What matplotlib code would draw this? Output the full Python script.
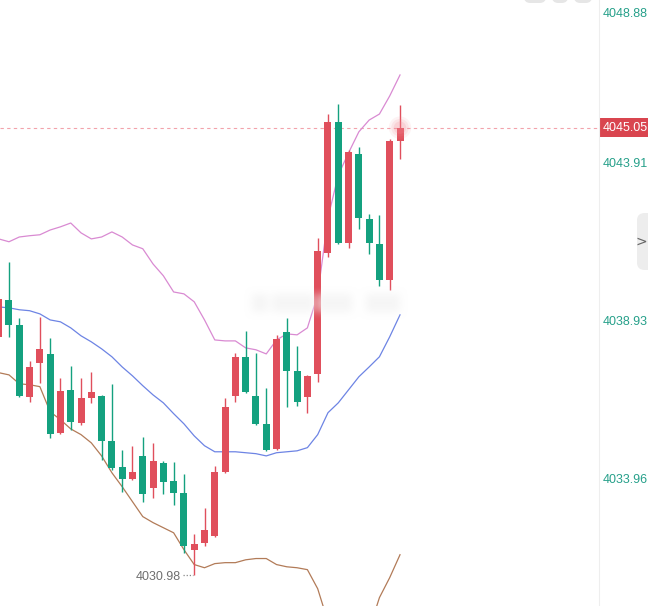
import numpy as np
import matplotlib
matplotlib.use("Agg")
import matplotlib.pyplot as plt
from matplotlib.patches import Rectangle, FancyBboxPatch
from matplotlib.lines import Line2D

plt.rcParams['font.family'] = ['Liberation Sans', 'DejaVu Sans']

# ---- OHLC candles (oldest -> newest) ----
opens = [4038.47, 4039.63, 4038.85, 4036.58, 4037.65, 4037.93, 4035.45, 4036.80, 4035.76, 4036.55,
         4036.61, 4035.20, 4034.38, 4034.00, 4034.73, 4033.72, 4034.51, 4033.94, 4033.56, 4031.77,
         4031.99, 4032.21, 4034.22, 4036.61, 4037.84, 4036.61, 4035.73, 4034.95, 4038.63, 4037.40,
         4036.58, 4037.30, 4041.11, 4045.23, 4041.42, 4044.23, 4042.18, 4041.39, 4040.26, 4044.63]
highs = [4039.75, 4040.83, 4039.07, 4037.71, 4039.10, 4038.44, 4037.18, 4037.56, 4037.18, 4037.37,
         4036.65, 4036.99, 4034.91, 4035.04, 4035.32, 4035.13, 4034.57, 4034.54, 4034.16, 4032.27,
         4033.09, 4034.41, 4036.55, 4037.97, 4038.66, 4037.97, 4036.86, 4038.53, 4039.07, 4038.19,
         4037.27, 4041.58, 4045.48, 4045.80, 4044.35, 4044.45, 4042.34, 4042.31, 4044.70, 4045.77]
lows = [4038.40, 4038.47, 4036.58, 4036.42, 4037.02, 4035.29, 4035.42, 4035.54, 4035.70, 4036.39,
        4034.60, 4034.28, 4033.59, 4033.97, 4033.28, 4033.40, 4033.53, 4033.18, 4031.67, 4030.98,
        4031.89, 4032.18, 4034.19, 4036.42, 4036.71, 4035.70, 4034.88, 4034.91, 4036.27, 4036.30,
        4036.08, 4037.05, 4040.98, 4041.40, 4041.27, 4041.87, 4041.08, 4040.07, 4039.95, 4044.07]
closes = [4039.66, 4038.85, 4036.61, 4037.52, 4038.09, 4035.42, 4036.77, 4035.79, 4036.55, 4036.74,
          4035.20, 4034.35, 4034.00, 4034.22, 4033.53, 4034.57, 4033.91, 4033.56, 4031.89, 4031.96,
          4032.40, 4034.22, 4036.27, 4037.84, 4036.74, 4035.73, 4034.91, 4038.41, 4037.40, 4036.42,
          4037.24, 4041.17, 4045.23, 4041.42, 4044.29, 4042.21, 4041.42, 4040.26, 4044.63, 4045.05]

# ---- Bollinger bands ----
boll_upper = [4041.55, 4041.46, 4041.61, 4041.65, 4041.68, 4041.83, 4041.93, 4042.05, 4041.74, 4041.55,
              4041.61, 4041.77, 4041.61, 4041.36, 4041.24, 4040.76, 4040.39, 4039.88, 4039.82, 4039.57,
              4039.00, 4038.37, 4038.34, 4038.34, 4038.12, 4038.06, 4037.93, 4038.37, 4038.56, 4038.53,
              4038.75, 4039.79, 4042.21, 4043.56, 4044.26, 4044.92, 4045.29, 4045.48, 4046.05, 4046.71]
boll_mid = [4039.41, 4039.38, 4039.32, 4039.29, 4039.19, 4039.00, 4038.94, 4038.75, 4038.50, 4038.31,
            4038.09, 4037.84, 4037.52, 4037.24, 4036.93, 4036.64, 4036.39, 4036.05, 4035.73, 4035.35,
            4035.04, 4034.85, 4034.85, 4034.85, 4034.82, 4034.79, 4034.72, 4034.82, 4034.85, 4034.88,
            4034.98, 4035.39, 4036.08, 4036.39, 4036.80, 4037.21, 4037.52, 4037.84, 4038.47, 4039.16]
boll_lower = [4037.34, 4037.27, 4036.99, 4036.96, 4036.90, 4036.11, 4035.86, 4035.57, 4035.39, 4035.13,
              4034.72, 4034.19, 4033.75, 4033.28, 4032.81, 4032.62, 4032.46, 4032.30, 4031.77, 4031.30,
              4031.20, 4031.33, 4031.36, 4031.36, 4031.45, 4031.49, 4031.49, 4031.30, 4031.23, 4031.20,
              4031.14, 4030.54, 4029.50, 4028.47, 4027.99, 4028.15, 4029.25, 4030.26, 4030.89, 4031.61]

# ---- price axis ----
axis_ticks = [4048.88, 4043.91, 4038.93, 4033.96]
last_price = closes[-1]
low_price = min(lows)

UP = '#e04f5c'
DOWN = '#14a17f'
TICK_COLOR = '#26a08a'

W, H = 648, 606
fig = plt.figure(figsize=(W / 100, H / 100), dpi=100)
fig.patch.set_facecolor('white')
plot_w = 599
ax = fig.add_axes([0, 0, plot_w / W, 1])
ax.set_facecolor('white')
for s in ax.spines.values():
    s.set_visible(False)
ax.set_xticks([])
ax.set_yticks([])

n = len(closes)
idx = np.arange(n)
ax.set_xlim(0.126, 0.126 + plot_w / 10.29)
ax.set_ylim(4029.996, 4049.069)

# Bollinger lines
ax.plot(idx, boll_upper, color='#d98ad2', lw=0.9, zorder=2)
ax.plot(idx, boll_mid, color='#6d84e4', lw=0.9, zorder=2)
ax.plot(idx, boll_lower, color='#b27b58', lw=0.9, zorder=2)

# candles
o = np.array(opens); c = np.array(closes)
hi = np.array(highs); lo = np.array(lows)
colors = [UP if cc >= oo else DOWN for oo, cc in zip(o, c)]
ax.vlines(idx, lo, hi, colors=colors, lw=1.0, zorder=3)
bottoms = np.minimum(o, c)
heights = np.maximum(np.abs(c - o), 0.04)
ax.bar(idx, heights, bottom=bottoms, width=0.68, color=colors, edgecolor='none', zorder=4)

# last price dashed line
ax.axhline(last_price, color='#f2a3ab', lw=0.8, ls=(0, (3, 3)), zorder=1)

# glow on latest candle
for s_, a_ in [(260, 0.10), (160, 0.14), (80, 0.2)]:
    ax.scatter([idx[-1]], [last_price], s=s_, color='#f58a96', alpha=a_, edgecolors='none', zorder=5)

# low marker
low_i = int(np.argmin(lows))
px_unit = 1 / 10.29
ax.plot([low_i - 11 * px_unit, low_i - 1 * px_unit], [low_price, low_price],
        color='#888888', lw=0.9, ls=(0, (1, 1.5)), zorder=5)
ax.annotate(f'{low_price:.2f}', xy=(low_i, low_price), xytext=(-13, -2),
            textcoords='offset pixels', ha='right', va='center',
            fontsize=9, color='#6e6e6e', zorder=6)

# right price scale
ytr = ax.get_yaxis_transform()
for t in axis_ticks:
    if t > 4048.5:
        ax.annotate(f'{t:.2f}', xy=(603 / plot_w, t), xycoords=ytr, xytext=(0, -8),
                    textcoords='offset pixels', ha='left', va='center', fontsize=9,
                    color=TICK_COLOR, annotation_clip=False)
    else:
        ax.text(603 / plot_w, t, f'{t:.2f}', transform=ytr, ha='left', va='center',
                fontsize=9, color=TICK_COLOR, clip_on=False)

# current price tag
ax.add_patch(Rectangle((1.0, last_price - 0.30), (W - plot_w) / plot_w, 0.60,
                       transform=ytr, facecolor='#d9454f', edgecolor='none',
                       clip_on=False, zorder=7))
ax.text(603 / plot_w, last_price, f'{last_price:.2f}', transform=ytr, ha='left', va='center',
        fontsize=9, color='white', clip_on=False, zorder=8)

# separator between plot and scale
fig.add_artist(Line2D([plot_w / W, plot_w / W], [0, 1], color='#eeeeee', lw=0.8))

def fx(px):
    return px / W

def fy(py):
    return 1 - py / H

# collapse tab on the right edge
fig.add_artist(FancyBboxPatch((fx(637), fy(270)), fx(30), fy(213) - fy(270),
                              boxstyle='round,pad=0,rounding_size=0.012',
                              facecolor='#ededed', edgecolor='none'))
fig.text(fx(641), fy(242), '>', fontsize=10, color='#666666', ha='center', va='center',
         family=['DejaVu Sans'])

# toolbar buttons peeking at the top
for x0, x1 in [(524, 546), (552, 568), (574, 592)]:
    fig.add_artist(FancyBboxPatch((fx(x0), fy(3)), fx(x1 - x0), fy(-10) - fy(3),
                                  boxstyle='round,pad=0,rounding_size=0.01',
                                  facecolor='#e6e6e6', edgecolor='none'))

# soft watermark band
wm_h, wm_w = 44, 180
mask = np.zeros((wm_h, wm_w))
for a, b in [(10, 26), (30, 72), (76, 110), (124, 158)]:
    mask[14:32, a:b] = 1.0
k = np.ones(9) / 9
for _ in range(2):
    mask = np.apply_along_axis(lambda r: np.convolve(r, k, mode='same'), 1, mask)
    mask = np.apply_along_axis(lambda r: np.convolve(r, k, mode='same'), 0, mask)
img = np.zeros((wm_h, wm_w, 4))
img[..., :3] = 0.95
img[..., 3] = np.clip(mask, 0, 1) * 0.7
fig.figimage(img, xo=242, yo=H - 324, origin='upper', zorder=10)

fig.savefig('out.png', dpi=100)
